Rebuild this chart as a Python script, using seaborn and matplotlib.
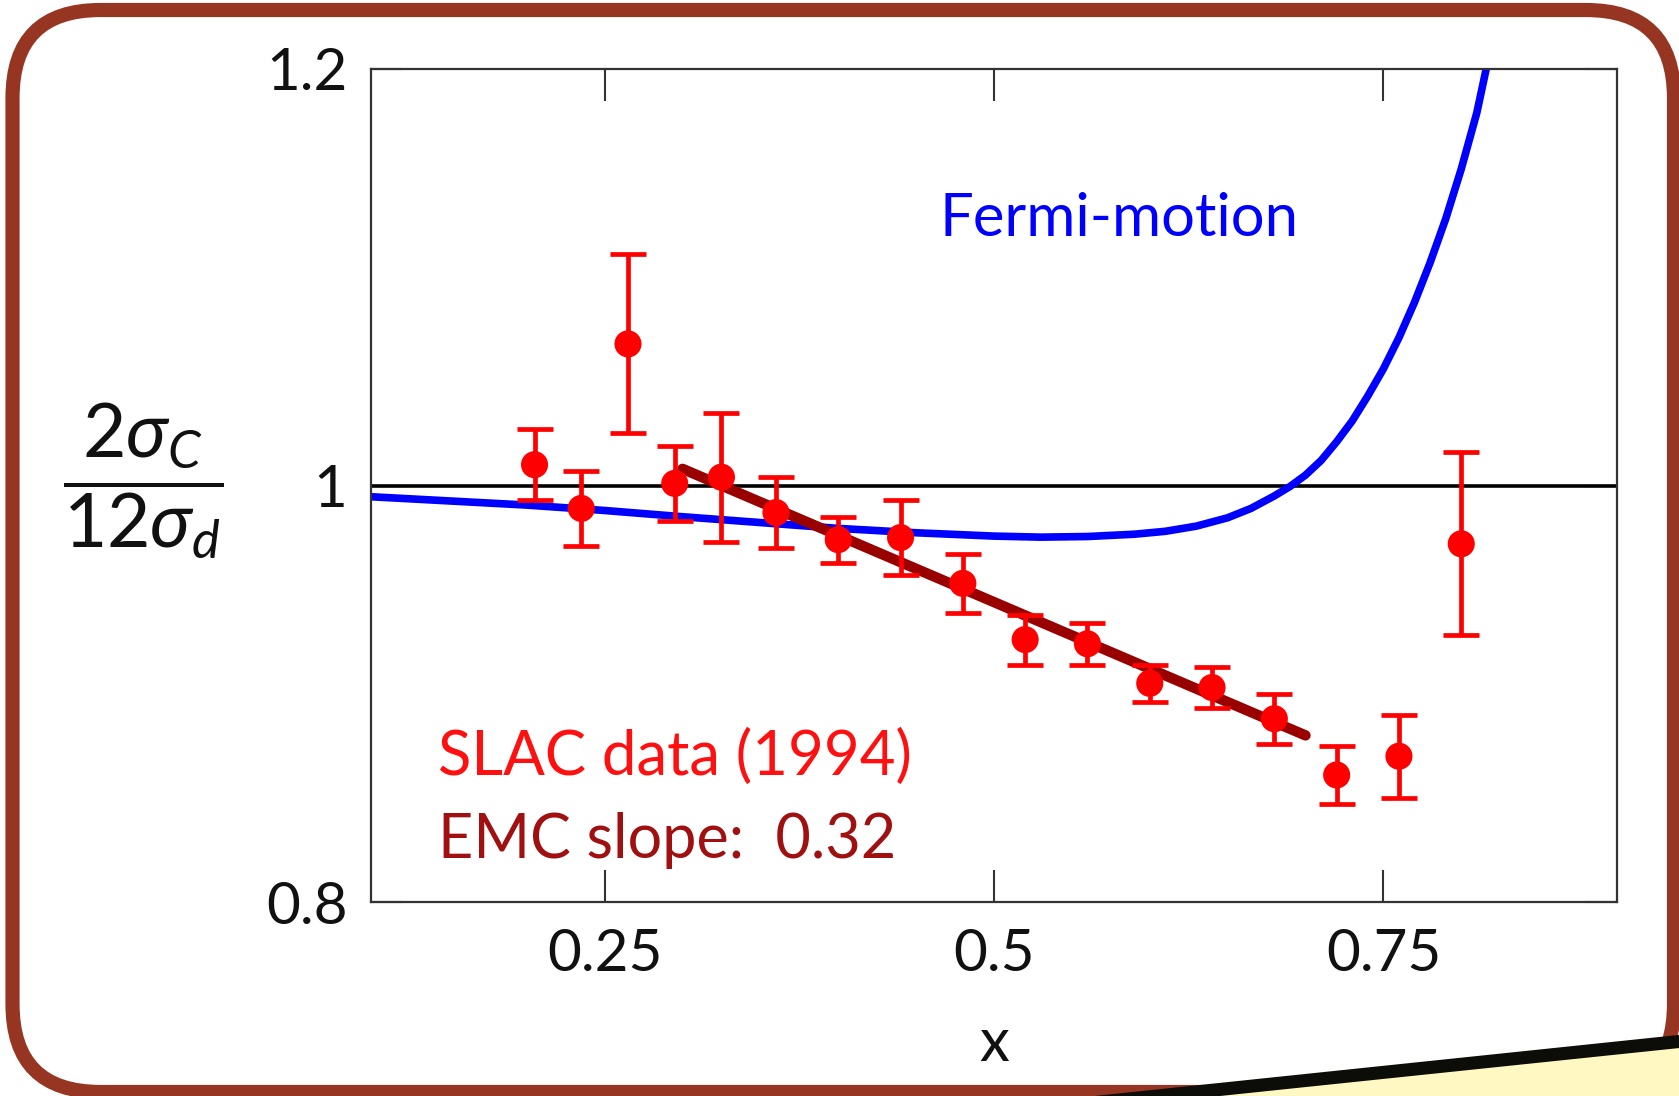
import numpy as np
import pandas as pd
import matplotlib
matplotlib.use("Agg")
import matplotlib.pyplot as plt
import matplotlib.patches as mpatches
from matplotlib.transforms import IdentityTransform
import seaborn as sns

# SLAC data (1994), ratio 2*sigma_C / 12*sigma_d
x_data = [0.205, 0.235, 0.265, 0.295, 0.325, 0.36, 0.40, 0.44, 0.48,
          0.52, 0.56, 0.60, 0.64, 0.68, 0.72, 0.76, 0.80]
ratio = [1.010, 0.989, 1.068, 1.001, 1.004, 0.987, 0.974, 0.975, 0.953,
         0.926, 0.924, 0.905, 0.903, 0.888, 0.861, 0.870, 0.972]
ratio_err = [0.017, 0.018, 0.043, 0.018, 0.031, 0.017, 0.011, 0.018, 0.014,
             0.012, 0.010, 0.009, 0.010, 0.012, 0.014, 0.020, 0.044]

# Fermi-motion curve
fermi_x = [0.10, 0.15, 0.20, 0.25, 0.30, 0.35, 0.40, 0.45, 0.50, 0.53,
           0.56, 0.59, 0.61, 0.63, 0.65, 0.665, 0.68, 0.69, 0.70, 0.71,
           0.72, 0.73, 0.74, 0.75, 0.76, 0.77, 0.78, 0.79, 0.80, 0.81,
           0.816]
fermi_y = [0.9946, 0.9926, 0.9906, 0.9880, 0.9850, 0.9822, 0.9794, 0.9773,
           0.9757, 0.9752, 0.9755, 0.9766, 0.9780, 0.9805, 0.9845, 0.9890,
           0.9950, 0.9995, 1.0050, 1.0120, 1.0210, 1.0310, 1.0430, 1.0560,
           1.0710, 1.0880, 1.1070, 1.1280, 1.1520, 1.1790, 1.2000]

# EMC slope fit line (slope 0.32)
emc_x = [0.30, 0.70]
emc_y = [1.008, 0.880]

x_ticks = [0.25, 0.5, 0.75]
x_tick_labels = ["0.25", "0.5", "0.75"]
y_ticks = [0.8, 1.0, 1.2]
y_tick_labels = ["0.8", "1", "1.2"]

sns.set_theme(style="ticks")
plt.rcParams['font.family'] = ['Lato', 'DejaVu Sans']
plt.rcParams['mathtext.fontset'] = 'custom'
plt.rcParams['mathtext.rm'] = 'Lato'
plt.rcParams['mathtext.it'] = 'Lato:italic'

W, H = 1679, 1096
fig = plt.figure(figsize=(W / 100, H / 100), dpi=100)
fig.patch.set_facecolor('white')
ax = fig.add_axes([371 / W, 1 - 902 / H, 1246 / W, 833 / H])

ax.axhline(1.0, color='black', lw=2.6, zorder=1)
sns.lineplot(x=fermi_x, y=fermi_y, ax=ax, color='#0000ff', lw=5.5, zorder=2)
sns.lineplot(x=emc_x, y=emc_y, ax=ax, color='#990000', lw=7.5, zorder=3,
             solid_capstyle='round')
ax.errorbar(x_data, ratio, yerr=ratio_err, fmt='none', ecolor='#ff0000',
            elinewidth=3.4, capsize=13, capthick=3.4, zorder=4)
sns.scatterplot(x=x_data, y=ratio, ax=ax, color='#ff0000', s=19.5 ** 2,
                edgecolor='none', zorder=5)

ax.set_xlim(0.1, 0.9)
ax.set_ylim(0.8, 1.2)
ax.set_xticks(x_ticks)
ax.set_xticklabels(x_tick_labels)
ax.set_yticks(y_ticks)
ax.set_yticklabels(y_tick_labels)
ax.tick_params(axis='both', direction='in', length=23, width=1.5,
               color='#333333', labelsize=42, labelcolor='#111111',
               top=True, right=True)
ax.tick_params(axis='x', pad=19)
ax.tick_params(axis='y', pad=17)
for s in ax.spines.values():
    s.set_color('#333333')
    s.set_linewidth(1.6)

ax.set_xlabel('x', fontsize=43, color='#111111')
ax.xaxis.set_label_coords(0.5, -0.17)
ax.xaxis.label.set_va('center')
ax.set_ylabel(r'$\dfrac{2\sigma_C}{12\sigma_d}$', fontsize=54, rotation=0,
              color='#111111')
ax.yaxis.set_label_coords(-0.183, 0.505)
ax.yaxis.label.set_va('center')
ax.yaxis.label.set_ha('center')

ax.text(0.465, 1.12, 'Fermi-motion', color='#0000ff', fontsize=43,
        va='baseline')
ax.text(0.143, 0.861, 'SLAC data (1994)', color='#ff1010', fontsize=44.5,
        va='baseline')
ax.text(0.143, 0.821, 'EMC slope:  0.32', color='#a01010', fontsize=44,
        va='baseline')

# rounded slide frame and the yellow note corner
frame = mpatches.FancyBboxPatch((12.5, 4), 1661.5, 1082,
                                boxstyle="round,pad=0,rounding_size=88",
                                transform=IdentityTransform(), fill=False,
                                edgecolor='#963622', lw=10.2, zorder=10)
fig.add_artist(frame)
note = mpatches.Polygon([(1050, -11.2), (1700, 56.7), (1700, -60), (1050, -60)],
                        closed=True, transform=IdentityTransform(),
                        facecolor='#fff8c2', edgecolor='#0c0c08', lw=9.4,
                        zorder=11)
fig.add_artist(note)

fig.savefig('out.png', dpi=100)
